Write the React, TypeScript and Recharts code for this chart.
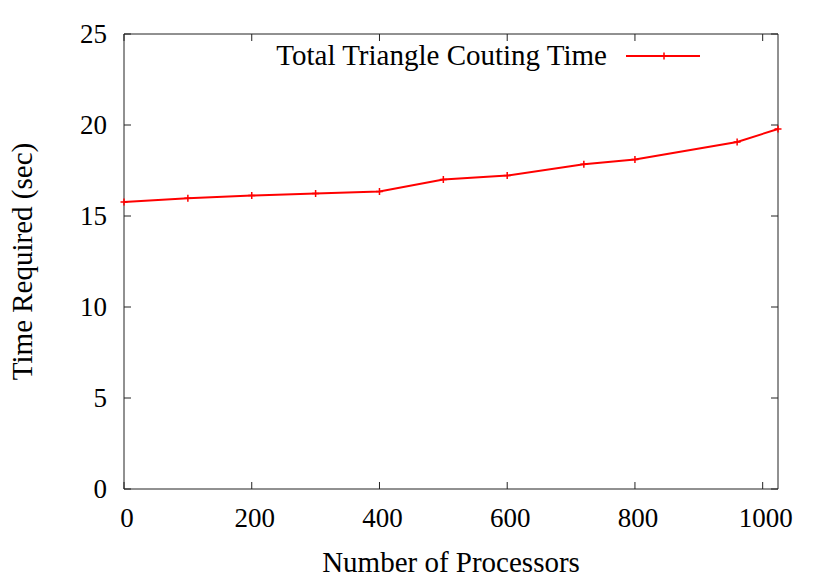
import React from "react";
import { LineChart, Line, XAxis, YAxis, Legend } from "recharts";

const processors = [0, 100, 200, 300, 400, 500, 600, 720, 800, 960, 1024];
const timeRequired = [15.77, 15.97, 16.12, 16.23, 16.35, 17.0, 17.22, 17.84, 18.1, 19.07, 19.78];
const xTicks = [0, 200, 400, 600, 800, 1000];
const yTicks = [0, 5, 10, 15, 20, 25];
const seriesName = "Total Triangle Couting Time";

const data = processors.map((p, i) => ({ p, t: timeRequired[i] }));

const FONT = '"Liberation Serif", "Times New Roman", Times, serif';
const RED = "#ff0000";
const AXIS = "#222";
const FS_TICK = 27;
const FS = 29;
const TICK = 7;

const BottomTick = (props: any) => {
  const { x, y, payload } = props;
  return (
    <g>
      <line x1={x} x2={x} y1={y} y2={y - TICK} stroke={AXIS} strokeWidth={1} />
      <text x={x + 3} y={y + 38} textAnchor="middle" fontFamily={FONT} fontSize={FS_TICK} fill="#000">
        {payload.value}
      </text>
    </g>
  );
};
const TopTick = (props: any) => {
  const { x, y } = props;
  return <line x1={x} x2={x} y1={y} y2={y + TICK} stroke={AXIS} strokeWidth={1} />;
};
const LeftTick = (props: any) => {
  const { x, y, payload } = props;
  return (
    <g>
      <line x1={x} x2={x + TICK} y1={y} y2={y} stroke={AXIS} strokeWidth={1} />
      <text x={x - 17} y={y + 9} textAnchor="end" fontFamily={FONT} fontSize={FS_TICK} fill="#000">
        {payload.value}
      </text>
    </g>
  );
};
const RightTick = (props: any) => {
  const { x, y } = props;
  return <line x1={x} x2={x - TICK} y1={y} y2={y} stroke={AXIS} strokeWidth={1} />;
};

const PlusDot = (props: any) => {
  const { cx, cy, index } = props;
  if (cx == null || cy == null) return <g key={index} />;
  return (
    <path
      key={index}
      d={`M${cx - 3.5},${cy}h7M${cx},${cy - 3.5}v7`}
      stroke={RED}
      strokeWidth={1.5}
      fill="none"
    />
  );
};

const LegendContent = () => (
  <svg width={450} height={40} style={{ display: "block", overflow: "visible" }}>
    <text x={347} y={29} textAnchor="end" fontFamily={FONT} fontSize={FS} fill="#000">
      {seriesName}
    </text>
    <line x1={366} x2={440} y1={20} y2={20} stroke={RED} strokeWidth={2} />
    <path d={`M400.5,20h7M404,16.5v7`} stroke={RED} strokeWidth={1.5} />
  </svg>
);

export default function App() {
  return (
    <div style={{ position: "absolute", left: 0, top: 0, width: 830, height: 581, background: "#fff" }}>
      <LineChart
        width={830}
        height={581}
        data={data}
        margin={{ top: 33, right: 51, bottom: 0, left: 0 }}
      >
        <XAxis
          xAxisId="b"
          dataKey="p"
          type="number"
          domain={[0, 1024]}
          ticks={xTicks}
          interval={0}
          height={92}
          tickSize={0}
          tickMargin={0}
          tickLine={false}
          axisLine={{ stroke: AXIS, strokeWidth: 1 }}
          tick={BottomTick}
          label={{
            content: (p: any) => {
              const vb = p.viewBox;
              return (
                <text x={vb.x + vb.width / 2} y={572} textAnchor="middle" fontFamily={FONT} fontSize={FS} fill="#000">
                  Number of Processors
                </text>
              );
            },
          }}
        />
        <XAxis
          xAxisId="t"
          dataKey="p"
          type="number"
          orientation="top"
          domain={[0, 1024]}
          ticks={xTicks}
          interval={0}
          height={1}
          tickSize={0}
          tickMargin={0}
          tickLine={false}
          axisLine={{ stroke: AXIS, strokeWidth: 1 }}
          tick={TopTick}
        />
        <YAxis
          yAxisId="l"
          type="number"
          domain={[0, 25]}
          ticks={yTicks}
          interval={0}
          width={124}
          tickSize={0}
          tickMargin={0}
          tickLine={false}
          axisLine={{ stroke: AXIS, strokeWidth: 1 }}
          tick={LeftTick}
          label={{
            content: (p: any) => {
              const vb = p.viewBox;
              const cy = vb.y + vb.height / 2;
              return (
                <text
                  x={32}
                  y={cy}
                  transform={`rotate(-90, 32, ${cy})`}
                  textAnchor="middle"
                  fontFamily={FONT}
                  fontSize={FS}
                  fill="#000"
                >
                  Time Required (sec)
                </text>
              );
            },
          }}
        />
        <YAxis
          yAxisId="r"
          type="number"
          orientation="right"
          domain={[0, 25]}
          ticks={yTicks}
          interval={0}
          width={1}
          tickSize={0}
          tickMargin={0}
          tickLine={false}
          axisLine={{ stroke: AXIS, strokeWidth: 1 }}
          tick={RightTick}
        />
        <Legend
          layout="horizontal"
          verticalAlign="middle"
          align="center"
          content={LegendContent}
          wrapperStyle={{ position: "absolute", left: 260, top: 36, width: 450, height: 40, margin: 0 }}
        />
        <Line
          xAxisId="b"
          yAxisId="l"
          dataKey="t"
          name={seriesName}
          stroke={RED}
          strokeWidth={2}
          type="linear"
          dot={PlusDot}
          activeDot={false}
          isAnimationActive={false}
        />
        <Line
          xAxisId="t"
          yAxisId="r"
          dataKey="t"
          legendType="none"
          stroke="none"
          dot={false}
          activeDot={false}
          isAnimationActive={false}
        />
      </LineChart>
    </div>
  );
}
